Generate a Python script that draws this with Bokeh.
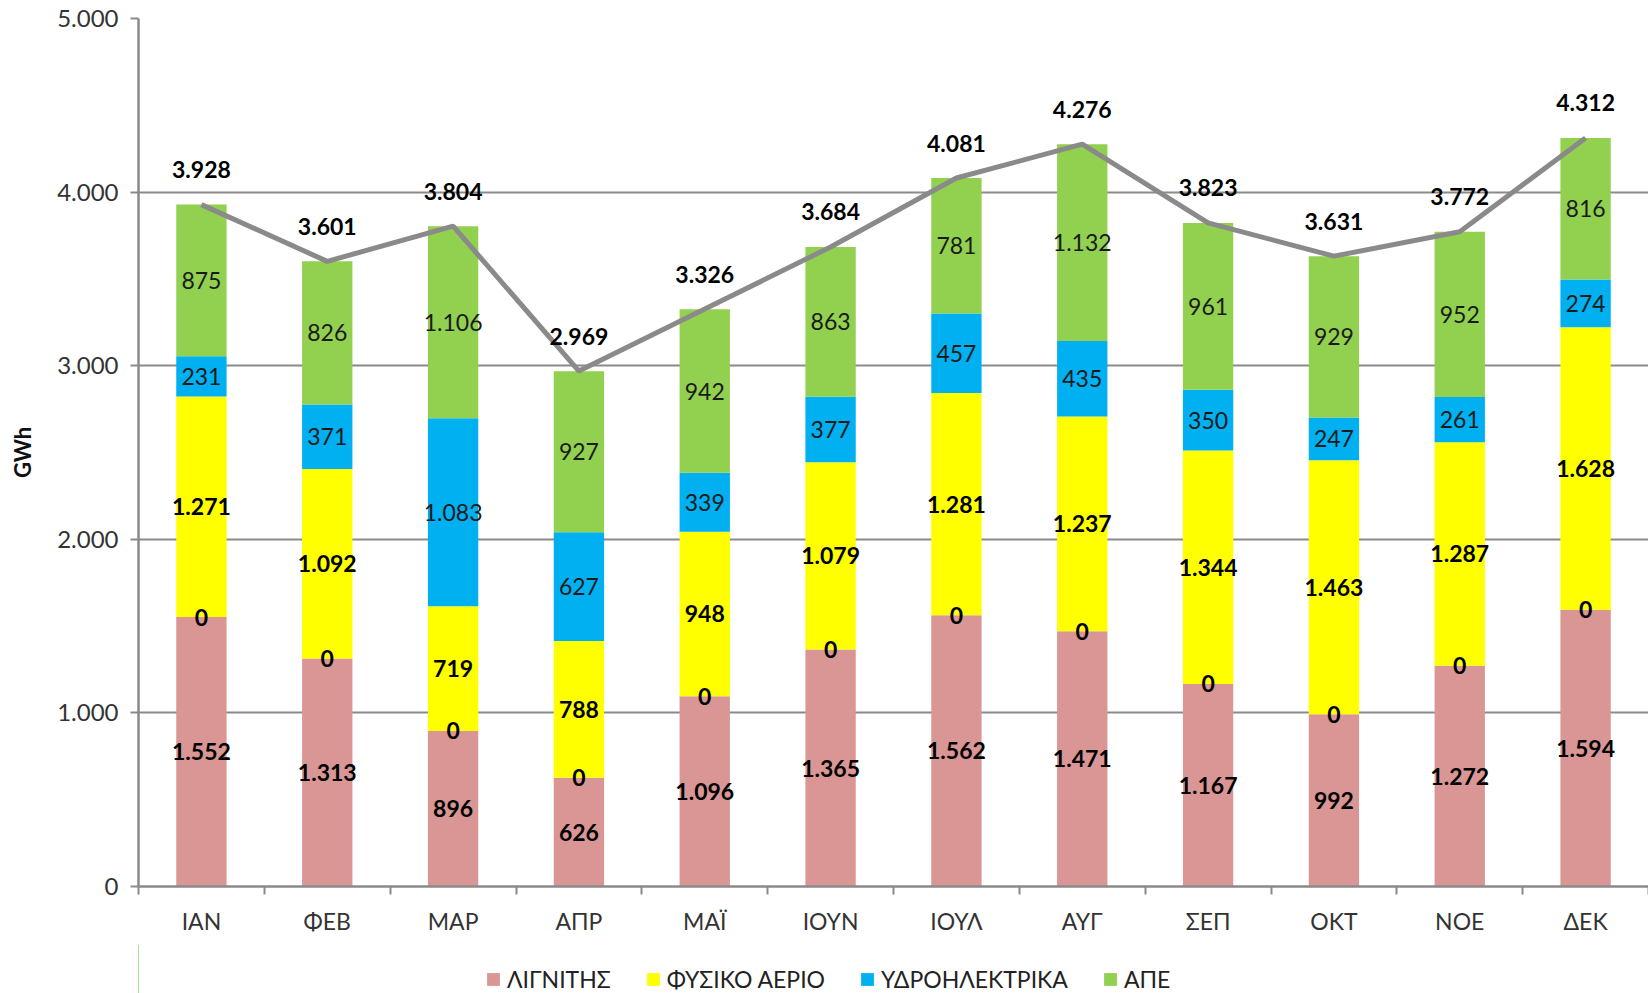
from bokeh.plotting import figure
from bokeh.layouts import column
from bokeh.models import ColumnDataSource, FixedTicker, LabelSet, Legend, LegendItem, Range1d
from bokeh.core.properties import value
from bokeh.embed import file_html
from bokeh.resources import INLINE

months = ["ΙΑΝ", "ΦΕΒ", "ΜΑΡ", "ΑΠΡ", "ΜΑΪ", "ΙΟΥΝ", "ΙΟΥΛ", "ΑΥΓ", "ΣΕΠ", "ΟΚΤ", "ΝΟΕ", "ΔΕΚ"]
lignite = [1552, 1313, 896, 626, 1096, 1365, 1562, 1471, 1167, 992, 1272, 1594]
oil = [0, 0, 0, 0, 0, 0, 0, 0, 0, 0, 0, 0]
gas = [1271, 1092, 719, 788, 948, 1079, 1281, 1237, 1344, 1463, 1287, 1628]
hydro = [231, 371, 1083, 627, 339, 377, 457, 435, 350, 247, 261, 274]
ape = [875, 826, 1106, 927, 942, 863, 781, 1132, 961, 929, 952, 816]
totals = [3928, 3601, 3804, 2969, 3326, 3684, 4081, 4276, 3823, 3631, 3772, 4312]
series_names = ["ΛΙΓΝΙΤΗΣ", "ΦΥΣΙΚΟ ΑΕΡΙΟ", "ΥΔΡΟΗΛΕΚΤΡΙΚΑ", "ΑΠΕ"]
y_ticks = [0, 1000, 2000, 3000, 4000, 5000]
y_tick_labels = ["0", "1.000", "2.000", "3.000", "4.000", "5.000"]

FONT = "Lato"
FS = "23px"
GRAY = "#8a8a8a"
colors = {"lignite": "#D99694", "gas": "#FFFF00", "hydro": "#00B0F0", "ape": "#92D050"}


def fmt(v):
    return f"{v:,}".replace(",", ".")


x = [i + 0.5 for i in range(len(months))]
data = dict(x=x, lignite=lignite, oil=oil, gas=gas, hydro=hydro, ape=ape, total=totals)
stack_order = ["lignite", "oil", "gas", "hydro", "ape"]
bottom = [0] * len(x)
for key in stack_order:
    vals = data[key]
    data[key + "_mid"] = [b + v / 2 for b, v in zip(bottom, vals)]
    data[key + "_txt"] = [fmt(v) for v in vals]
    bottom = [b + v for b, v in zip(bottom, vals)]
data["total_txt"] = [fmt(v) for v in totals]
src = ColumnDataSource(data)

p = figure(width=1648, height=944, x_range=Range1d(0, 12), y_range=Range1d(0, 5000),
           output_backend="svg", toolbar_location=None,
           min_border_left=138, min_border_right=0, min_border_top=18, min_border_bottom=58)
p.outline_line_color = None
p.background_fill_color = "white"
p.xgrid.grid_line_color = None
p.ygrid.grid_line_color = GRAY
p.ygrid.grid_line_width = 2
p.ygrid.ticker = FixedTicker(ticks=y_ticks)

stack_colors = [colors["lignite"], colors["lignite"], colors["gas"], colors["hydro"], colors["ape"]]
renderers = p.vbar_stack(stack_order, x="x", width=0.4, source=src, color=stack_colors, line_color=None)

p.line(x="x", y="total", source=src, line_color=GRAY, line_width=5)

# y axis
ya = p.yaxis[0]
ya.ticker = FixedTicker(ticks=y_ticks)
ya.major_label_overrides = {t: l for t, l in zip(y_ticks, y_tick_labels)}
ya.axis_line_color = GRAY
ya.axis_line_width = 2.5
ya.major_tick_line_color = GRAY
ya.major_tick_line_width = 2
ya.major_tick_out = 8
ya.major_tick_in = 0
ya.minor_tick_line_color = None
ya.major_label_text_font = FONT
ya.major_label_text_font_size = "24px"
ya.major_label_text_color = "#333333"
ya.major_label_standoff = 12
ya.axis_label = "GWh"
ya.axis_label_text_font = FONT
ya.axis_label_text_font_size = "22px"
ya.axis_label_text_font_style = "bold"
ya.axis_label_text_color = "#111111"
ya.axis_label_standoff = 18

# x axis
xa = p.xaxis[0]
xa.ticker = FixedTicker(ticks=x, minor_ticks=list(range(13)))
xa.major_label_overrides = {t: m for t, m in zip(x, months)}
xa.axis_line_color = GRAY
xa.axis_line_width = 2.5
xa.major_tick_line_color = None
xa.major_tick_out = 0
xa.major_tick_in = 0
xa.minor_tick_line_color = GRAY
xa.minor_tick_line_width = 2
xa.minor_tick_out = 8
xa.minor_tick_in = 0
xa.major_label_text_font = FONT
xa.major_label_text_font_size = FS
xa.major_label_text_color = "#333333"
xa.major_label_standoff = 12

# data labels
label_specs = [("lignite", "bold", "black"), ("oil", "bold", "black"), ("gas", "bold", "black"),
               ("hydro", "normal", "#1a1a1a"), ("ape", "normal", "#1a1a1a")]
for key, style, col in label_specs:
    p.add_layout(LabelSet(x="x", y=key + "_mid", text=key + "_txt", source=src,
                          text_font=value(FONT), text_font_size=value(FS), text_font_style=value(style),
                          text_color=value(col), text_align=value("center"), text_baseline=value("middle")))
p.add_layout(LabelSet(x="x", y="total", text="total_txt", source=src, y_offset=35,
                      text_font=value(FONT), text_font_size=value(FS), text_font_style=value("bold"),
                      text_color=value("black"), text_align=value("center"), text_baseline=value("middle")))

# legend strip (separate figure so the legend is not clipped)
lg = figure(width=1648, height=49, x_range=Range1d(0, 1), y_range=Range1d(0, 1),
            output_backend="svg", toolbar_location=None,
            min_border_left=0, min_border_right=0, min_border_top=0, min_border_bottom=0)
lg.axis.visible = False
lg.grid.visible = False
lg.outline_line_color = None
legend_colors = [colors["lignite"], colors["gas"], colors["hydro"], colors["ape"]]
# proxy bars placed outside the visible range, used only for the legend swatches
legend_rs = [lg.vbar(x=[-5], top=[1], width=0.1, color=c, line_color=None) for c in legend_colors]
legend = Legend(items=[LegendItem(label=n, renderers=[r]) for n, r in zip(series_names, legend_rs)],
                orientation="horizontal", location=(347, 0),
                border_line_color=None, background_fill_alpha=0,
                label_text_font=FONT, label_text_font_size=FS, label_text_color="#222222",
                glyph_width=16, glyph_height=16, spacing=34, label_standoff=6,
                padding=0, margin=0)
lg.add_layout(legend, "center")

open("out.html", "w").write(file_html(column(p, lg), INLINE))
